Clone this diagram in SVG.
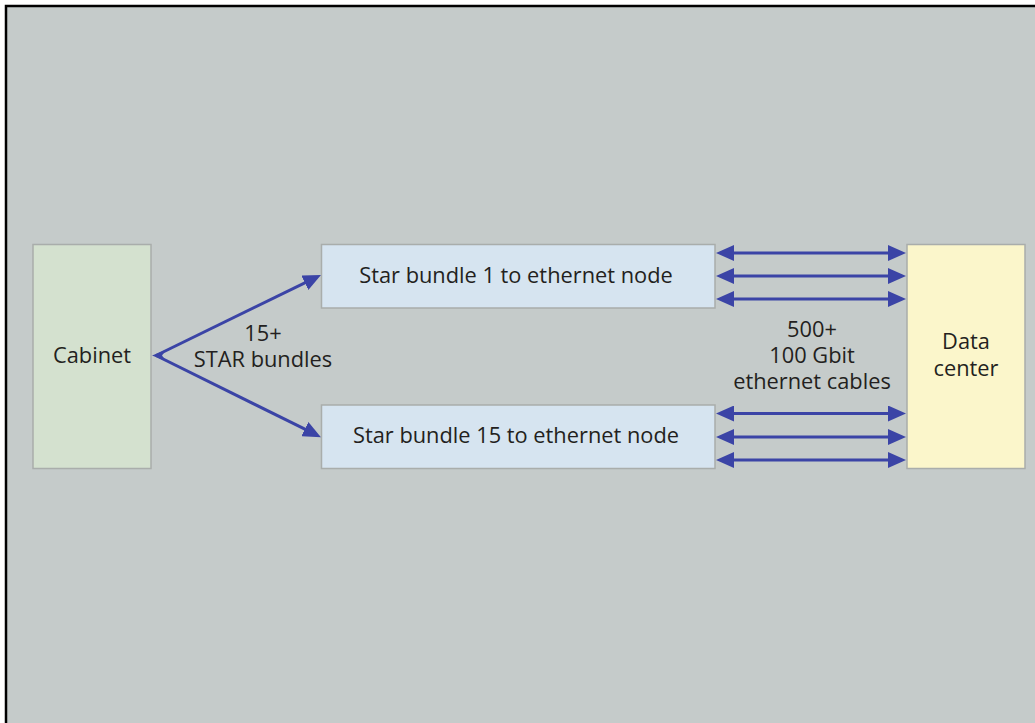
<svg xmlns="http://www.w3.org/2000/svg" width="1035" height="723" viewBox="0 0 1035 723">
  <defs>
    <style>
      .box { stroke: #a9adab; stroke-width: 1.5; }
      .lbl { font-family: "Open Sans", "Liberation Sans", sans-serif; font-size: 21.8px; fill: #231f20; text-anchor: middle; }
      .conn { stroke: #3b44a6; stroke-width: 3; fill: none; }
    </style>
    <marker id="ah" viewBox="0 0 18 16" refX="8" refY="8" markerWidth="18" markerHeight="16" markerUnits="userSpaceOnUse" orient="auto-start-reverse">
      <path d="M0,0 L18,8 L0,16 z" fill="#3b44a6"/>
    </marker>
  </defs>
  <rect x="0" y="0" width="1035" height="723" fill="#ffffff"/>
  <rect id="frame" x="6" y="6" width="1040" height="730" fill="#c5cbca" stroke="#000000" stroke-width="2.5"/>

  <g id="cabinet">
    <rect class="box" x="33" y="244.5" width="118" height="224" fill="#d4e1cf"/>
    <text class="lbl" x="92" y="363">Cabinet</text>
  </g>
  <g id="star1">
    <rect class="box" x="321.5" y="244.5" width="393.5" height="63.5" fill="#d6e4f0"/>
    <text class="lbl" x="516" y="283">Star bundle 1 to ethernet node</text>
  </g>
  <g id="star15">
    <rect class="box" x="321.5" y="405" width="393.5" height="63.5" fill="#d6e4f0"/>
    <text class="lbl" x="516" y="443">Star bundle 15 to ethernet node</text>
  </g>
  <g id="datacenter">
    <rect class="box" x="907" y="244.5" width="118" height="224" fill="#fbf6cb"/>
    <text class="lbl" x="966" y="349">Data</text>
    <text class="lbl" x="966" y="376">center</text>
  </g>

  <g id="connectors">
    <polygon points="152,355.5 166,350 162,355.5 166,361" fill="#3b44a6"/>
    <line class="conn" x1="156" y1="355.5" x2="312" y2="279.3" marker-end="url(#ah)"/>
    <line class="conn" x1="156" y1="355.5" x2="312" y2="432.7" marker-end="url(#ah)"/>
    <line class="conn" x1="726" y1="253" x2="896" y2="253" marker-start="url(#ah)" marker-end="url(#ah)"/>
    <line class="conn" x1="726" y1="276" x2="896" y2="276" marker-start="url(#ah)" marker-end="url(#ah)"/>
    <line class="conn" x1="726" y1="299" x2="896" y2="299" marker-start="url(#ah)" marker-end="url(#ah)"/>
    <line class="conn" x1="726" y1="413.5" x2="896" y2="413.5" marker-start="url(#ah)" marker-end="url(#ah)"/>
    <line class="conn" x1="726" y1="437" x2="896" y2="437" marker-start="url(#ah)" marker-end="url(#ah)"/>
    <line class="conn" x1="726" y1="460" x2="896" y2="460" marker-start="url(#ah)" marker-end="url(#ah)"/>
  </g>

  <g id="labels">
    <text class="lbl" x="263" y="341">15+</text>
    <text class="lbl" x="263" y="367">STAR bundles</text>
    <text class="lbl" x="812" y="337">500+</text>
    <text class="lbl" x="812" y="363">100 Gbit</text>
    <text class="lbl" x="812" y="389">ethernet cables</text>
  </g>
</svg>
